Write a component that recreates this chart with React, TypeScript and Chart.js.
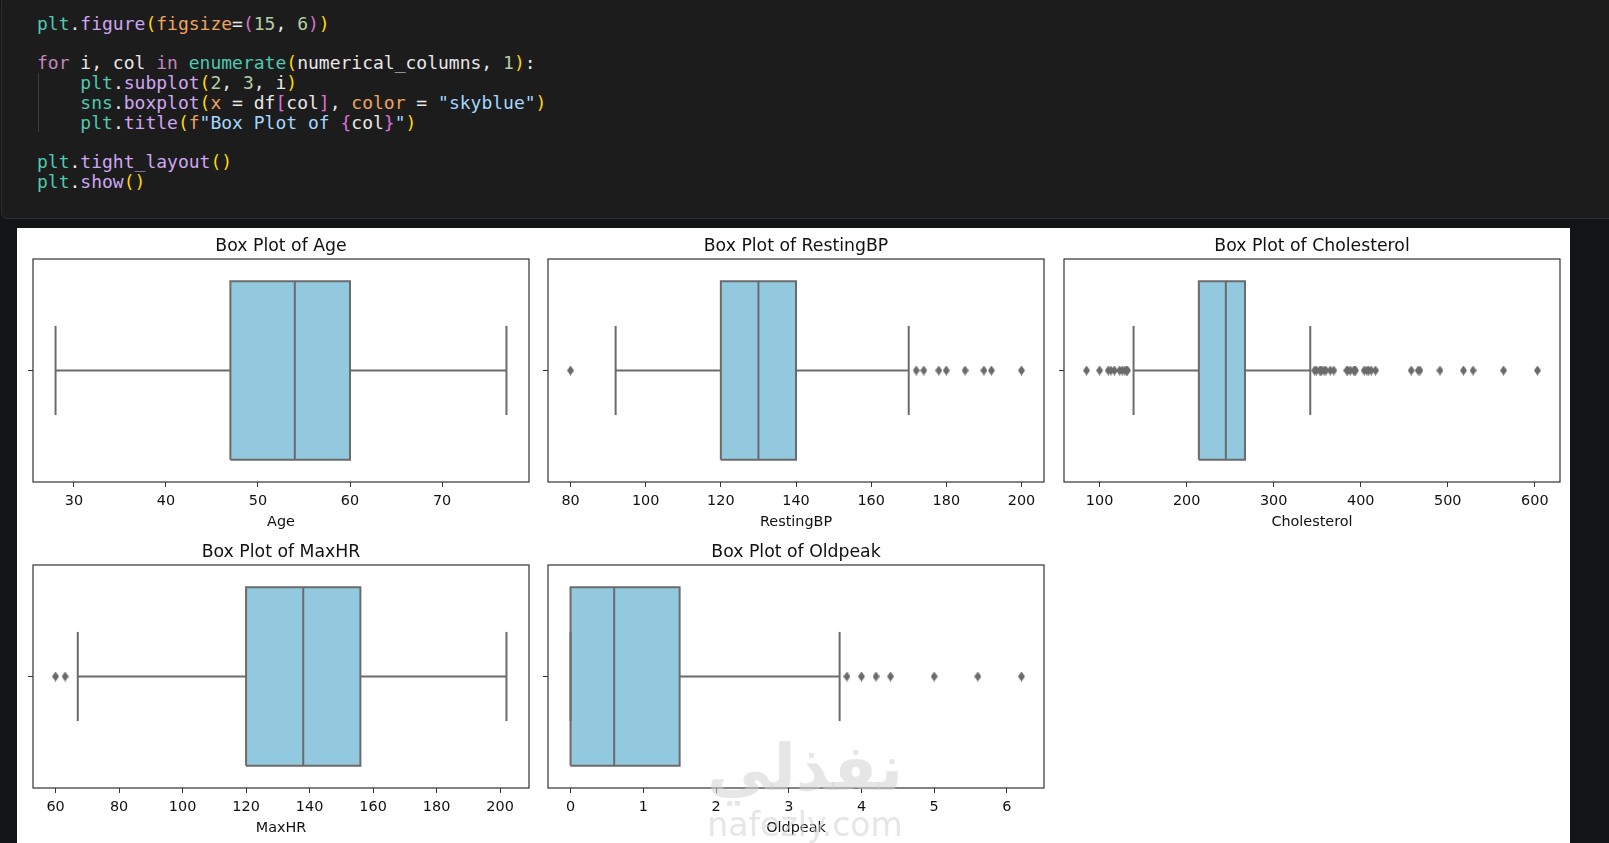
import React, { useEffect, useRef } from "react";
import { Chart, registerables } from "chart.js";

Chart.register(...registerables);

// ---------- data ----------
const columns = ["Age", "RestingBP", "Cholesterol", "MaxHR", "Oldpeak"];
const titles = columns.map((c) => `Box Plot of ${c}`);

// [lower whisker, Q1, median, Q3, upper whisker]
const ageStats = [28, 47, 54, 60, 77];
const restingBPStats = [92, 120, 130, 140, 170];
const cholesterolStats = [139, 214, 245, 267, 342];
const maxHRStats = [67, 120, 138, 156, 202];
const oldpeakStats = [0, 0, 0.6, 1.5, 3.7];

const ageOutliers: number[] = [];
const restingBPOutliers = [80, 172, 174, 178, 180, 185, 190, 192, 200];
const cholesterolOutliers = [
  85, 100, 110, 113, 117, 123, 126, 129, 131, 132,
  347, 349, 353, 354, 355, 358, 360, 365, 369, 384, 385, 388, 392, 393, 394,
  404, 407, 409, 412, 417, 458, 466, 468, 491, 518, 529, 564, 603,
];
const maxHROutliers = [60, 63];
const oldpeakOutliers = [3.8, 4.0, 4.2, 4.4, 5.0, 5.6, 6.2];

const ageTicks = [30, 40, 50, 60, 70];
const restingBPTicks = [80, 100, 120, 140, 160, 180, 200];
const cholesterolTicks = [100, 200, 300, 400, 500, 600];
const maxHRTicks = [60, 80, 100, 120, 140, 160, 180, 200];
const oldpeakTicks = [0, 1, 2, 3, 4, 5, 6];

// ---------- styles ----------
const BOX = "#93c9de";
const LINE = "#6b6b6b";
const SPINE = "#333333";
const TEXT = "#111111";
const FONT = "'DejaVu Sans', sans-serif";

const AX_W = 496;
const AX_H = 223;
const Y_W = 20;
const TOP_H = 30;
const X_H = 49;
const PAD_R = 20;
const CW = Y_W + AX_W + PAD_R;
const CH = TOP_H + AX_H + X_H;

type Sub = {
  title: string;
  label: string;
  stats: number[];
  outliers: number[];
  ticks: number[];
  left: number;
  top: number;
};

const colLeft = [33, 548, 1064];
const rowTop = [259, 565];

const subs: Sub[] = [
  { title: titles[0], label: columns[0], stats: ageStats, outliers: ageOutliers, ticks: ageTicks, left: colLeft[0], top: rowTop[0] },
  { title: titles[1], label: columns[1], stats: restingBPStats, outliers: restingBPOutliers, ticks: restingBPTicks, left: colLeft[1], top: rowTop[0] },
  { title: titles[2], label: columns[2], stats: cholesterolStats, outliers: cholesterolOutliers, ticks: cholesterolTicks, left: colLeft[2], top: rowTop[0] },
  { title: titles[3], label: columns[3], stats: maxHRStats, outliers: maxHROutliers, ticks: maxHRTicks, left: colLeft[0], top: rowTop[1] },
  { title: titles[4], label: columns[4], stats: oldpeakStats, outliers: oldpeakOutliers, ticks: oldpeakTicks, left: colLeft[1], top: rowTop[1] },
];

const framePlugin = {
  id: "axesFrame",
  afterDatasetsDraw(chart: any) {
    const { ctx, chartArea: a } = chart;
    ctx.save();
    ctx.strokeStyle = SPINE;
    ctx.lineWidth = 1.2;
    ctx.strokeRect(a.left, a.top, a.right - a.left, a.bottom - a.top);
    ctx.restore();
  },
};

function BoxChart({ sub }: { sub: Sub }) {
  const ref = useRef<HTMLCanvasElement>(null);
  useEffect(() => {
    const diamond = document.createElement("canvas");
    diamond.width = 7;
    diamond.height = 10;
    const dc = diamond.getContext("2d")!;
    dc.fillStyle = LINE;
    dc.beginPath();
    dc.moveTo(3.5, 0);
    dc.lineTo(7, 5);
    dc.lineTo(3.5, 10);
    dc.lineTo(0, 5);
    dc.closePath();
    dc.fill();

    const [lo, q1, med, q3, hi] = sub.stats;
    const all = [...sub.stats, ...sub.outliers];
    const mn = Math.min(...all);
    const mx = Math.max(...all);
    const margin = (mx - mn) * 0.05;
    const boxHalf = 0.4;
    const capHalf = 0.2;

    const seg = (pts: { x: number; y: number }[]) => ({
      type: "line" as const,
      data: pts,
      borderColor: LINE,
      borderWidth: 2,
      pointRadius: 0,
      pointHoverRadius: 0,
      fill: false,
      tension: 0,
      borderCapStyle: "butt" as const,
    });

    const datasets: any[] = [
      {
        type: "scatter",
        data: sub.outliers.map((v) => ({ x: v, y: 0 })),
        pointStyle: diamond,
        pointRadius: 4,
        pointHoverRadius: 4,
        backgroundColor: LINE,
        borderColor: LINE,
      },
      seg([{ x: med, y: -boxHalf }, { x: med, y: boxHalf }]),
      seg([{ x: lo, y: 0 }, { x: q1, y: 0 }]),
      seg([{ x: q3, y: 0 }, { x: hi, y: 0 }]),
      seg([{ x: lo, y: -capHalf }, { x: lo, y: capHalf }]),
      seg([{ x: hi, y: -capHalf }, { x: hi, y: capHalf }]),
      {
        ...seg([
          { x: q1, y: -boxHalf },
          { x: q3, y: -boxHalf },
          { x: q3, y: boxHalf },
          { x: q1, y: boxHalf },
          { x: q1, y: -boxHalf },
        ]),
        fill: "shape",
        backgroundColor: BOX,
        borderJoinStyle: "miter",
      },
    ];

    const chart = new Chart(ref.current!, {
      type: "scatter",
      data: { datasets },
      options: {
        animation: false,
        responsive: false,
        devicePixelRatio: 1,
        events: [],
        layout: { padding: { left: 0, right: PAD_R, top: 0, bottom: 0 } },
        plugins: {
          legend: { display: false },
          tooltip: { enabled: false },
          title: {
            display: true,
            fullSize: false,
            text: sub.title,
            color: TEXT,
            font: { family: FONT, size: 17.3, weight: "normal", lineHeight: "20px" },
            padding: { top: 8, bottom: 2 },
          },
        },
        scales: {
          x: {
            type: "linear",
            min: mn - margin,
            max: mx + margin,
            afterBuildTicks: (s: any) => {
              s.ticks = sub.ticks.map((v) => ({ value: v }));
            },
            afterFit: (s: any) => {
              s.height = X_H;
            },
            grid: {
              display: true,
              drawOnChartArea: false,
              drawTicks: true,
              tickLength: 5,
              color: SPINE,
              lineWidth: 1,
            },
            border: { display: false },
            ticks: {
              padding: 6,
              color: TEXT,
              autoSkip: false,
              maxRotation: 0,
              font: { family: FONT, size: 14.4 },
              callback: (v: any) => String(v),
            },
            title: {
              display: true,
              text: sub.label,
              color: TEXT,
              font: { family: FONT, size: 14.4, lineHeight: "17px" },
              padding: { top: 0, bottom: 0 },
            },
          },
          y: {
            type: "linear",
            min: -0.5,
            max: 0.5,
            afterBuildTicks: (s: any) => {
              s.ticks = [{ value: 0 }];
            },
            afterFit: (s: any) => {
              s.width = Y_W;
            },
            grid: {
              display: true,
              drawOnChartArea: false,
              drawTicks: true,
              tickLength: 5,
              color: SPINE,
              lineWidth: 1,
            },
            border: { display: false },
            ticks: { display: false },
          },
        },
      } as any,
      plugins: [framePlugin],
    } as any);
    return () => chart.destroy();
  }, [sub]);

  return (
    <canvas
      ref={ref}
      width={CW}
      height={CH}
      style={{
        position: "absolute",
        left: sub.left - Y_W,
        top: sub.top - TOP_H,
        width: CW,
        height: CH,
      }}
    />
  );
}

// ---------- code cell ----------
const CC = {
  mod: "#4ec9b0",
  fn: "#cfa6f2",
  p1: "#ffd700",
  p2: "#da70d6",
  kw: "#c586c0",
  arg: "#f0a35e",
  num: "#b5cea8",
  txt: "#e8e8e8",
  str: "#a5d6ff",
};

const codeLines: [string, string][][] = [
  [["plt", CC.mod], [".", CC.txt], ["figure", CC.fn], ["(", CC.p1], ["figsize", CC.arg], ["=", CC.txt], ["(", CC.p2], ["15", CC.num], [", ", CC.txt], ["6", CC.num], [")", CC.p2], [")", CC.p1]],
  [],
  [["for", CC.kw], [" i, col ", CC.txt], ["in", CC.kw], [" ", CC.txt], ["enumerate", CC.mod], ["(", CC.p1], ["numerical_columns, ", CC.txt], ["1", CC.num], [")", CC.p1], [":", CC.txt]],
  [["    ", CC.txt], ["plt", CC.mod], [".", CC.txt], ["subplot", CC.fn], ["(", CC.p1], ["2", CC.num], [", ", CC.txt], ["3", CC.num], [", i", CC.txt], [")", CC.p1]],
  [["    ", CC.txt], ["sns", CC.mod], [".", CC.txt], ["boxplot", CC.fn], ["(", CC.p1], ["x", CC.arg], [" = df", CC.txt], ["[", CC.p2], ["col", CC.txt], ["]", CC.p2], [", ", CC.txt], ["color", CC.arg], [" = ", CC.txt], ['"skyblue"', CC.str], [")", CC.p1]],
  [["    ", CC.txt], ["plt", CC.mod], [".", CC.txt], ["title", CC.fn], ["(", CC.p1], ["f", CC.arg], ['"Box Plot of ', CC.str], ["{", CC.p2], ["col", CC.txt], ["}", CC.p2], ['"', CC.str], [")", CC.p1]],
  [],
  [["plt", CC.mod], [".", CC.txt], ["tight_layout", CC.fn], ["(", CC.p1], [")", CC.p1]],
  [["plt", CC.mod], [".", CC.txt], ["show", CC.fn], ["(", CC.p1], [")", CC.p1]],
];

export default function App() {
  return (
    <div
      style={{
        position: "fixed",
        left: 0,
        top: 0,
        width: 1609,
        height: 843,
        background: "#121415",
        overflow: "hidden",
        fontFamily: FONT,
      }}
    >
      <div
        style={{
          position: "absolute",
          left: 1,
          top: -5,
          width: 1640,
          height: 224,
          background: "#1c1c1c",
          border: "1px solid #2f2f2f",
          borderRadius: 6,
          boxSizing: "border-box",
        }}
      />
      <div
        style={{
          position: "absolute",
          left: 38,
          top: 73,
          width: 1,
          height: 59,
          background: "#3c3c3c",
        }}
      />
      <pre
        style={{
          position: "absolute",
          left: 37,
          top: 13.8,
          margin: 0,
          fontFamily: "'DejaVu Sans Mono', monospace",
          fontSize: 18,
          lineHeight: "19.8px",
          color: CC.txt,
        }}
      >
        {codeLines.map((line, i) => (
          <div key={i} style={{ height: "19.8px" }}>
            {line.map(([t, c], j) => (
              <span key={j} style={{ color: c }}>
                {t}
              </span>
            ))}
          </div>
        ))}
      </pre>
      <div
        style={{
          position: "absolute",
          left: 17,
          top: 228,
          width: 1553,
          height: 630,
          background: "#ffffff",
        }}
      />
      {subs.map((s, i) => (
        <BoxChart key={i} sub={s} />
      ))}
      <div
        style={{
          position: "absolute",
          left: 700,
          top: 734,
          width: 210,
          textAlign: "center",
          fontSize: 64,
          fontWeight: "bold",
          lineHeight: "68px",
          color: "rgba(210,210,210,0.55)",
          fontFamily: "'DejaVu Sans', sans-serif",
          pointerEvents: "none",
        }}
      >
        نفذلي
      </div>
      <div
        style={{
          position: "absolute",
          left: 700,
          top: 806,
          width: 210,
          textAlign: "center",
          fontSize: 33,
          lineHeight: "38px",
          color: "rgba(210,210,210,0.55)",
          fontFamily: "'DejaVu Sans', sans-serif",
          pointerEvents: "none",
        }}
      >
        nafezly.com
      </div>
    </div>
  );
}
